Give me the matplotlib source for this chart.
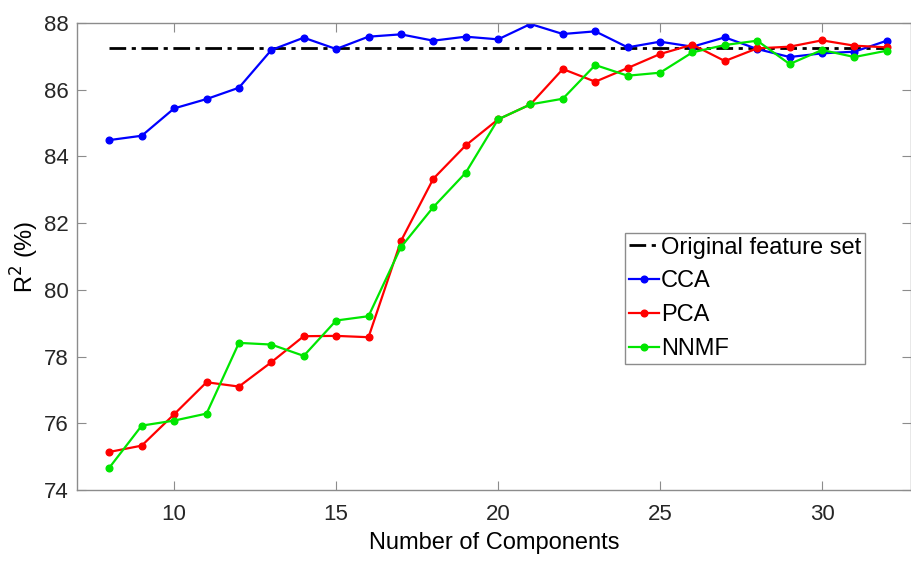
import numpy as np
import matplotlib
matplotlib.use("Agg")
import matplotlib.pyplot as plt

plt.rcParams['font.family'] = ['Liberation Sans', 'DejaVu Sans']

components = list(range(8, 33))

original_r2 = 87.24

cca = [84.49, 84.62, 85.44, 85.72, 86.06, 87.19, 87.56, 87.22, 87.59, 87.66,
       87.47, 87.59, 87.51, 87.97, 87.67, 87.75, 87.27, 87.44, 87.29, 87.57,
       87.22, 86.98, 87.09, 87.14, 87.47]
pca = [75.14, 75.33, 76.27, 77.23, 77.10, 77.83, 78.61, 78.62, 78.58, 81.46,
       83.33, 84.33, 85.11, 85.56, 86.62, 86.24, 86.65, 87.07, 87.35, 86.86,
       87.24, 87.29, 87.48, 87.32, 87.27]
nnmf = [74.67, 75.93, 76.08, 76.29, 78.41, 78.36, 78.02, 79.08, 79.21, 81.28,
        82.48, 83.51, 85.11, 85.56, 85.73, 86.74, 86.42, 86.51, 87.12, 87.34,
        87.47, 86.77, 87.19, 86.98, 87.17]

x_ticks = [10, 15, 20, 25, 30]
y_ticks = [74, 76, 78, 80, 82, 84, 86, 88]

fig = plt.figure(figsize=(9.12, 5.61), dpi=100)
ax = fig.add_axes([0.0844, 0.1266, 0.9146, 0.8324])

ax.plot([components[0], components[-1]], [original_r2, original_r2], color='black',
        linestyle=(0, (6, 2, 1.5, 2)), linewidth=2, label='Original feature set')
ax.plot(components, cca, color='#0000ff', marker='o', markersize=4.8, linewidth=1.6, label='CCA')
ax.plot(components, pca, color='#ff0000', marker='o', markersize=4.8, linewidth=1.6, label='PCA')
ax.plot(components, nnmf, color='#00e600', marker='o', markersize=4.8, linewidth=1.6, label='NNMF')

ax.set_xlim(7, 32.75)
ax.set_ylim(74, 88)
ax.set_xticks(x_ticks)
ax.set_yticks(y_ticks)

for s in ax.spines.values():
    s.set_color('#8c8c8c')
    s.set_linewidth(1.0)
ax.tick_params(direction='in', length=6.5, width=0.8, color='#8c8c8c',
               top=True, right=True, labelsize=16, labelcolor='#262626')
ax.tick_params(axis='x', pad=10)
ax.tick_params(axis='y', pad=6)

ax.set_xlabel('Number of Components', fontsize=17, labelpad=5)
ax.set_ylabel('R$^2$ (%)', fontsize=17, labelpad=2)

leg = ax.legend(loc='upper left', bbox_to_anchor=(0.657, 0.55), fontsize=17,
                frameon=True, fancybox=False, edgecolor='#8c8c8c', framealpha=1,
                handlelength=1.3, handletextpad=0.08, labelspacing=0.5,
                borderpad=0.15, borderaxespad=0)
leg.get_frame().set_linewidth(1.0)

fig.savefig('out.png', dpi=100)
